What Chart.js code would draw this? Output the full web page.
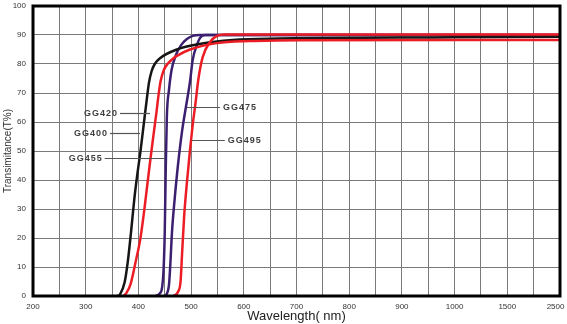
<!DOCTYPE html>
<html lang="en">
<head>
  <meta charset="UTF-8" />
  <title>Transmittance curves</title>
  <script src="https://cdn.jsdelivr.net/npm/chart.js"></script>
  <style>
    html, body { margin: 0; padding: 0; background: #fff; }
    #wrap { width: 567px; height: 324px; }
  </style>
</head>
<body>
  <div id="wrap"><canvas id="grafico" width="567" height="324"></canvas></div>

  <script>
    // x tick labels (the axis is squeezed above 1000 nm)
    const xTickLabels = ['200', '300', '400', '500', '600', '700', '800', '900', '1000', '1500', '2500'];

    // curves: wavelength (nm) / transmittance (%)
    const gg400Nm = [360, 365, 374, 380, 386, 392, 398, 404, 410, 416, 420, 425, 431, 441, 473, 516, 579, 668, 896, 1000, 2500];
    const gg400T  = [0, 0.5, 4.8, 12, 22, 33, 42, 50, 59, 68, 73.5, 77.5, 80, 82, 85, 86.9, 88.3, 88.8, 89.1, 89.2, 89.4];

    const gg420Nm = [372, 377, 385, 395, 403, 410, 416, 423, 429, 434, 438, 442, 448, 456, 464, 473, 498, 549, 611, 706, 1000, 2500];
    const gg420T  = [0, 1, 4, 12, 19, 28, 37, 47.5, 56, 63, 69, 74, 77.8, 80.2, 81.6, 82.8, 85, 87.2, 87.9, 88.2, 88.3, 88.3];

    const gg455Nm = [433, 440, 445, 448, 450, 452, 454, 458, 463, 471, 481, 492, 503, 517, 1000, 2500];
    const gg455T  = [0, 0.8, 3, 10, 22, 45, 62, 71, 78, 83, 86.5, 88.6, 89.7, 90, 90, 90];

    const gg475Nm = [452, 458, 460, 464, 469, 475, 483, 490, 498, 503, 511, 517, 526, 1000, 2500];
    const gg475T  = [0, 3.8, 9, 22.8, 33.8, 45, 57, 65, 74, 81.4, 86.6, 89, 90, 90, 90];

    const gg495Nm = [467, 475, 480, 483, 487, 492, 498, 503, 508, 514, 522, 536, 549, 564, 1000, 2500];
    const gg495T  = [0, 1.4, 5, 15, 28, 39, 50.5, 59, 66, 75, 82.4, 87.6, 89.7, 90.2, 90.2, 90.2];

    const annoNames = ['GG420', 'GG400', 'GG455', 'GG475', 'GG495'];

    // axis position: linear up to 1000, then 1000->1500 and 1500->2500 each take one 100-step
    function axisPos(nm) {
      if (nm <= 1000) return nm;
      if (nm <= 1500) return 1000 + (nm - 1000) / 5;
      return 1100 + (nm - 1500) / 10;
    }

    function pts(nm, t) {
      return nm.map((v, i) => ({ x: axisPos(v), y: t[i] }));
    }

    const FONT = '"Liberation Sans", Arial, sans-serif';
    const RED = '#ec1c24';
    const PURPLE = '#3c2070';
    const BLACK = '#151515';

    // leader lines (axis units) and which side the text goes
    const annoLayout = [
      { from: 365, to: 422, y: 63.1, side: 'left' },
      { from: 346, to: 403, y: 56.2, side: 'left' },
      { from: 336, to: 450, y: 47.6, side: 'left' },
      { from: 492, to: 555, y: 65.2, side: 'right' },
      { from: 501, to: 564, y: 53.8, side: 'right' }
    ];

    const framePlugin = {
      id: 'frame',
      afterDatasetsDraw(chart) {
        const { ctx, chartArea: a, scales } = chart;
        ctx.save();
        ctx.strokeStyle = '#555';
        ctx.lineWidth = 1.2;
        ctx.fillStyle = '#3f3f3f';
        ctx.font = 'bold 9px ' + FONT;
        if ('letterSpacing' in ctx) ctx.letterSpacing = '1px';
        ctx.textBaseline = 'middle';
        annoLayout.forEach((l, i) => {
          const x1 = scales.x.getPixelForValue(l.from);
          const x2 = scales.x.getPixelForValue(l.to);
          const y = Math.round(scales.y.getPixelForValue(l.y)) + 0.5;
          ctx.beginPath();
          ctx.moveTo(x1, y);
          ctx.lineTo(x2, y);
          ctx.stroke();
          if (l.side === 'left') {
            ctx.textAlign = 'right';
            ctx.fillText(annoNames[i], x1 - 2, y);
          } else {
            ctx.textAlign = 'left';
            ctx.fillText(annoNames[i], x2 + 3, y);
          }
        });
        if ('letterSpacing' in ctx) ctx.letterSpacing = '0px';
        // heavy frame
        ctx.strokeStyle = '#000';
        ctx.lineWidth = 3;
        ctx.strokeRect(a.left, a.top, a.right - a.left, a.bottom - a.top);
        ctx.restore();
      }
    };

    const line = (nm, t, color) => ({
      data: pts(nm, t),
      borderColor: color,
      borderWidth: 2.5,
      pointRadius: 0,
      fill: false,
      cubicInterpolationMode: 'monotone'
    });

    // first dataset is painted last, so the reds sit on top
    new Chart(document.getElementById('grafico'), {
      type: 'line',
      data: {
        datasets: [
          line(gg495Nm, gg495T, RED),
          line(gg420Nm, gg420T, RED),
          line(gg400Nm, gg400T, BLACK),
          line(gg475Nm, gg475T, PURPLE),
          line(gg455Nm, gg455T, PURPLE)
        ]
      },
      options: {
        responsive: false,
        animation: false,
        layout: { padding: { top: 6, right: 7, left: 0, bottom: 0 } },
        plugins: { legend: { display: false }, tooltip: { enabled: false } },
        scales: {
          x: {
            type: 'linear',
            min: 200,
            max: 1200,
            grid: { color: '#7a7a7a', lineWidth: 1, drawTicks: false },
            border: { display: false },
            ticks: {
              stepSize: 50,
              autoSkip: false,
              maxRotation: 0,
              padding: 6,
              color: '#333',
              font: { family: FONT, size: 8 },
              callback: value => {
                const idx = xTickLabels.findIndex(s => axisPos(Number(s)) === value);
                if (idx < 0) return '';
                // last label sits inside the plot edge
                return idx === xTickLabels.length - 1 ? xTickLabels[idx] + '\u2007\u2007' : xTickLabels[idx];
              }
            },
            title: {
              display: true,
              text: 'Wavelength( nm)',
              color: '#222',
              font: { family: FONT, size: 13 },
              padding: { top: 0, bottom: 0 }
            },
            afterFit: s => { s.height = 28; s.paddingLeft = 0; s.paddingRight = 0; }
          },
          y: {
            min: 0,
            max: 100,
            grid: { color: '#7a7a7a', lineWidth: 1, drawTicks: false },
            border: { display: false },
            ticks: {
              stepSize: 10,
              padding: 7,
              color: '#333',
              font: { family: FONT, size: 8 }
            },
            title: {
              display: true,
              text: 'Transimitance(T%)',
              color: '#333',
              font: { family: FONT, size: 10 },
              padding: { top: 2, bottom: 0 }
            },
            afterFit: s => { s.width = 33; s.paddingTop = 0; s.paddingBottom = 0; }
          }
        }
      },
      plugins: [framePlugin]
    });
  </script>
</body>
</html>
